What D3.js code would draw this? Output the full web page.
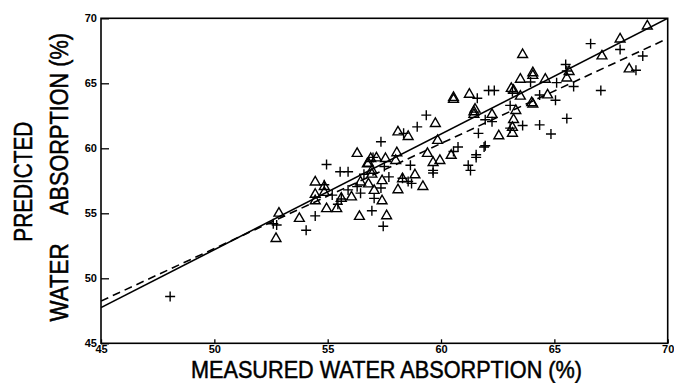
<!DOCTYPE html>
<html>
<head>
<meta charset="utf-8">
<script src="https://cdn.jsdelivr.net/npm/d3@7"></script>
<style>
  html, body { margin: 0; padding: 0; background: #fff; }
  svg { display: block; }
  text { font-family: "Liberation Sans", Arial, Helvetica, sans-serif; fill: #000; }
</style>
</head>
<body>
<svg id="chart" width="674" height="383"></svg>
<script>
// Measured vs predicted water absorption (%), two sample sets
const xTicks = [45, 50, 55, 60, 65, 70];
const yTicks = [45, 50, 55, 60, 65, 70];

// Set A: open triangles [measured, predicted]
const triangles = [
  [69.1, 69.4], [67.9, 68.4], [67.1, 67.1], [68.3, 66.1], [63.6, 67.2],
  [63.5, 65.3], [64.05, 65.8], [64.05, 65.6], [64.6, 65.3], [64.7, 64.1],
  [63.5, 64.0], [64.05, 63.4], [64.0, 63.5], [63.3, 62.9], [63.2, 62.2],
  [63.15, 61.6], [63.15, 61.15], [63.1, 64.6], [63.2, 64.45], [65.65, 65.9],
  [65.55, 65.4], [62.55, 60.95], [62.25, 62.6], [61.25, 64.15], [60.55, 63.9],
  [60.55, 63.75], [61.5, 63.0], [61.45, 62.8], [61.45, 62.6], [59.85, 60.6],
  [59.75, 61.9], [60.45, 59.45], [59.95, 59.05], [59.65, 58.9], [59.4, 59.6],
  [59.2, 57.05], [58.85, 57.95], [58.55, 60.9], [58.1, 61.25], [58.05, 59.65],
  [58.0, 59.05], [58.1, 56.8], [58.3, 57.65], [57.55, 59.2], [57.15, 59.25],
  [56.9, 59.2], [56.8, 58.85], [56.95, 58.3], [56.75, 58.8], [56.95, 58.0],
  [56.8, 57.25], [57.05, 56.75], [56.3, 59.6], [56.45, 57.4], [56.4, 54.75],
  [56.05, 56.25], [55.6, 56.15], [57.4, 55.95], [57.6, 54.8], [55.4, 55.35],
  [54.95, 55.35], [54.45, 57.4], [54.45, 56.45], [54.45, 55.95], [54.85, 57.05],
  [54.85, 56.6], [53.75, 54.6], [52.85, 55.0], [52.72, 53.05], [57.4, 57.5]
];

// Set B: plus signs [measured, predicted]
const pluses = [
  [66.6, 68.05], [67.9, 67.6], [68.9, 67.1], [68.6, 66.0], [67.05, 64.45],
  [65.85, 64.75], [65.5, 66.45], [65.55, 65.95], [65.1, 65.05], [65.05, 63.7],
  [65.55, 62.3], [64.85, 61.1], [64.35, 61.8], [64.35, 64.1], [63.95, 65.1],
  [63.6, 61.75], [63.15, 64.35], [63.05, 63.3], [63.05, 61.55], [62.1, 64.45],
  [62.35, 64.45], [62.25, 62.05], [61.95, 62.2], [61.95, 60.2], [61.9, 60.1],
  [61.6, 63.85], [61.65, 61.15], [61.55, 59.5], [61.55, 59.3], [61.2, 58.7],
  [61.3, 58.3], [60.75, 60.1], [60.55, 59.75], [59.35, 62.55], [58.95, 61.65],
  [58.35, 61.15], [59.65, 58.3], [59.65, 58.1], [58.65, 58.7], [58.55, 57.45],
  [58.7, 57.3], [58.3, 57.7], [57.7, 57.8], [57.5, 58.6], [57.35, 60.5],
  [57.35, 56.95], [57.05, 56.15], [56.95, 55.2], [57.45, 54.0], [57.0, 59.3],
  [56.6, 58.0], [55.9, 58.2], [55.55, 58.2], [56.3, 57.05], [56.45, 56.55],
  [55.9, 56.8], [55.6, 56.1], [55.45, 55.7], [55.2, 56.4], [54.95, 58.75],
  [54.85, 57.2], [54.45, 54.8], [54.05, 53.7], [52.6, 54.2], [52.75, 54.1],
  [48.05, 48.6]
];

// Fitted lines, endpoints at x = 45 and x = 70
const solidFit = [[45, 47.75], [70, 70.0]];
const dashedFit = [[45, 48.25], [70, 68.45]];

const svg = d3.select("#chart");
const plotLeft = 101, plotRight = 667.7, plotTop = 18.3, plotBottom = 343.3;

const x = d3.scaleLinear().domain([45, 70]).range([plotLeft, plotRight]);
const y = d3.scaleLinear().domain([45, 70]).range([plotBottom, plotTop]);

svg.append("defs").append("clipPath").attr("id", "plotClip")
  .append("rect")
  .attr("x", plotLeft).attr("y", plotTop)
  .attr("width", plotRight - plotLeft).attr("height", plotBottom - plotTop);

// Axes with inward ticks
const xAxis = d3.axisBottom(x).tickValues(xTicks).tickSize(-4).tickPadding(6)
  .tickFormat(d3.format("d"));
const yAxis = d3.axisLeft(y).tickValues(yTicks).tickSize(-8).tickPadding(12)
  .tickFormat(d3.format("d"));

const gx = svg.append("g").attr("transform", `translate(0,${plotBottom})`).call(xAxis);
const gy = svg.append("g").attr("transform", `translate(${plotLeft},0)`).call(yAxis);

[gx, gy].forEach(g => {
  g.select(".domain").remove();
  g.selectAll(".tick line").attr("stroke", "#000").attr("stroke-width", 1.3);
  g.selectAll(".tick text")
    .style("font-family", "'Liberation Sans', Arial, sans-serif")
    .style("font-weight", "bold")
    .style("font-size", "11px")
    .attr("fill", "#000");
});
gx.selectAll(".tick text").attr("dy", "0.36em");
gy.selectAll(".tick text").attr("x", -4);

// Frame
svg.append("rect")
  .attr("x", plotLeft).attr("y", plotTop)
  .attr("width", plotRight - plotLeft).attr("height", plotBottom - plotTop)
  .attr("fill", "none").attr("stroke", "#000").attr("stroke-width", 1.6);

const plot = svg.append("g").attr("clip-path", "url(#plotClip)");

const line = d3.line().x(d => x(d[0])).y(d => y(d[1]));

plot.append("path").datum(solidFit)
  .attr("d", line).attr("fill", "none")
  .attr("stroke", "#000").attr("stroke-width", 1.6);

plot.append("path").datum(dashedFit)
  .attr("d", line).attr("fill", "none")
  .attr("stroke", "#000").attr("stroke-width", 1.6)
  .attr("stroke-dasharray", "8,5");

// Plus-sign marker
const plusSymbol = {
  draw(context, size) {
    const r = Math.sqrt(size) / 2;
    context.moveTo(-r, 0); context.lineTo(r, 0);
    context.moveTo(0, -r); context.lineTo(0, r);
  }
};

svg.append("g").selectAll("path").data(triangles).join("path")
  .attr("transform", d => `translate(${x(d[0])},${y(d[1])})`)
  .attr("d", d3.symbol(d3.symbolTriangle, 42))
  .attr("fill", "none").attr("stroke", "#000").attr("stroke-width", 1.4);

svg.append("g").selectAll("path").data(pluses).join("path")
  .attr("transform", d => `translate(${x(d[0])},${y(d[1])})`)
  .attr("d", d3.symbol(plusSymbol, 100))
  .attr("fill", "none").attr("stroke", "#000").attr("stroke-width", 1.4);

// Axis titles
svg.append("text")
  .attr("x", 386.5).attr("y", 377.5)
  .attr("text-anchor", "middle")
  .attr("textLength", 391).attr("lengthAdjust", "spacingAndGlyphs")
  .style("font-size", "24px")
  .attr("stroke", "#000").attr("stroke-width", 0.5)
  .text("MEASURED WATER ABSORPTION (%)");

const yTitle = [
  { text: "PREDICTED", bx: 31.5, cy: 181.7, len: 120 },
  { text: "WATER", bx: 67.5, cy: 282.5, len: 78 },
  { text: "ABSORPTION (%)", bx: 67.5, cy: 124, len: 182 }
];
svg.append("g").selectAll("text").data(yTitle).join("text")
  .attr("transform", d => `translate(${d.bx},${d.cy}) rotate(-90)`)
  .attr("text-anchor", "middle")
  .attr("textLength", d => d.len).attr("lengthAdjust", "spacingAndGlyphs")
  .style("font-size", "25px")
  .attr("stroke", "#000").attr("stroke-width", 0.5)
  .text(d => d.text);
</script>
</body>
</html>
